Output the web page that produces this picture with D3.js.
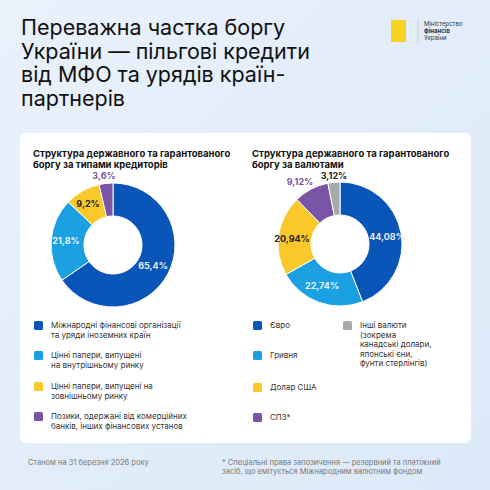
<!DOCTYPE html>
<html><head><meta charset="utf-8">
<script src="https://cdn.jsdelivr.net/npm/d3@7"></script>
<style>body{margin:0}svg{font-family:Inter,"Noto Sans",sans-serif}</style>
</head><body>
<svg id="c" width="490" height="490"></svg>
<script>
// data
const creditorLabels = ["Міжнародні фінансові організації|та уряди іноземних країн", "Цінні папери, випущені|на внутрішньому ринку", "Цінні папери, випущені на|зовнішньому ринку", "Позики, одержані від комерційних|банків, інших фінансових установ"];
const creditorValues = [65.4, 21.8, 9.2, 3.6];
const currencyLabels = ["Євро", "Гривня", "Долар США", "СПЗ*", "Інші валюти|(зокрема|канадські долари,|японські єни,|фунти стерлінгів)"];
const currencyValues = [44.08, 22.74, 20.94, 9.12, 3.12];
const creditorColors = ["#0a55b8", "#1ba0e2", "#f9c92b", "#7b55a5"];
const currencyColors = ["#0a55b8", "#1ba0e2", "#f9c92b", "#7b55a5", "#a9a9a9"];

const svg = d3.select("#c");
const defs = svg.append("defs");
const g = defs.append("linearGradient").attr("id", "bg").attr("x1", 0).attr("y1", 0).attr("x2", 1).attr("y2", 1);
g.append("stop").attr("offset", 0).attr("stop-color", "#e9f1fb");
g.append("stop").attr("offset", 1).attr("stop-color", "#dce9f8");
svg.append("rect").attr("width", 490).attr("height", 490).attr("fill", "url(#bg)");

// title
["Переважна частка боргу", "України — пільгові кредити", "від МФО та урядів країн-", "партнерів"].forEach((t, i) =>
  svg.append("text").attr("x", 21).attr("y", 35 + i * 23.5).attr("font-size", 21.5).attr("fill", "#111").text(t));

// logo
svg.append("rect").attr("x", 391).attr("y", 20).attr("width", 15).attr("height", 22).attr("fill", "#f7d21e");
svg.append("line").attr("x1", 418).attr("x2", 418).attr("y1", 19).attr("y2", 43).attr("stroke", "#ccc");
[["Міністерство", 400], ["фінансів", 700], ["України", 400]].forEach((d, i) =>
  svg.append("text").attr("x", 424).attr("y", 26 + i * 7).attr("font-size", 6).attr("font-weight", d[1]).attr("fill", "#333").text(d[0]));

// card
svg.append("rect").attr("x", 20).attr("y", 133).attr("width", 451).attr("height", 310).attr("rx", 6).attr("fill", "#fff");

function subtitle(x, lines) {
  lines.forEach((t, i) => svg.append("text").attr("x", x).attr("y", 157 + i * 11).attr("font-size", 9.5)
    .attr("font-weight", 700).attr("fill", "#111").text(t));
}
subtitle(33, ["Структура державного та гарантованого", "боргу за типами кредиторів"]);
subtitle(252, ["Структура державного та гарантованого", "боргу за валютами"]);

function donut(cx, cy, values, colors, labelPos, labelColors) {
  const pie = d3.pie().sort(null)(values);
  const arc = d3.arc().innerRadius(29).outerRadius(62);
  const gg = svg.append("g").attr("transform", `translate(${cx},${cy})`);
  gg.selectAll("path").data(pie).join("path").attr("d", arc)
    .attr("fill", (d, i) => colors[i]).attr("stroke", "#fff").attr("stroke-width", 1);
  pie.forEach((d, i) => {
    gg.append("text").attr("x", labelPos[i][0] - cx).attr("y", labelPos[i][1] - cy)
      .attr("text-anchor", "middle").attr("dominant-baseline", "middle").attr("font-size", 9)
      .attr("font-weight", 700).attr("fill", labelColors[i])
      .text(String(d.data).replace(".", ",") + "%");
  });
}
donut(113, 245, creditorValues, creditorColors, [[153, 267], [66, 242], [88, 205], [104, 177]],
  ["#e8eefc", "#e8f6fd", "#222", "#7b55a5"]);
donut(340, 244, currencyValues, currencyColors, [[387, 238], [322, 287], [292, 240], [300, 183], [334, 177]],
  ["#e8eefc", "#e8f6fd", "#222", "#7b55a5", "#222"]);

function legendItem(x, y, color, label) {
  svg.append("rect").attr("x", x).attr("y", y - 4).attr("width", 9).attr("height", 9).attr("rx", 1.5).attr("fill", color);
  label.split("|").forEach((t, i) => svg.append("text").attr("x", x + 17).attr("y", y + 3 + i * 9.5)
    .attr("font-size", 8).attr("fill", "#333").text(t));
}
const leftY = [325, 355, 386, 416];
creditorLabels.forEach((l, i) => legendItem(34, leftY[i], creditorColors[i], l));
const rightPos = [[253, 325], [253, 355], [253, 387], [253, 417], [343, 325]];
currencyLabels.forEach((l, i) => legendItem(rightPos[i][0], rightPos[i][1], currencyColors[i], l));

// footer
svg.append("text").attr("x", 28).attr("y", 465).attr("font-size", 7.5).attr("fill", "#777").text("Станом на 31 березня 2026 року");
["* Спеціальні права запозичення — резервний та платіжний", "засіб, що емітується Міжнародним валютним фондом"].forEach((t, i) =>
  svg.append("text").attr("x", 222).attr("y", 465 + i * 9).attr("font-size", 7.5).attr("fill", "#777").text(t));
</script>
</body></html>
